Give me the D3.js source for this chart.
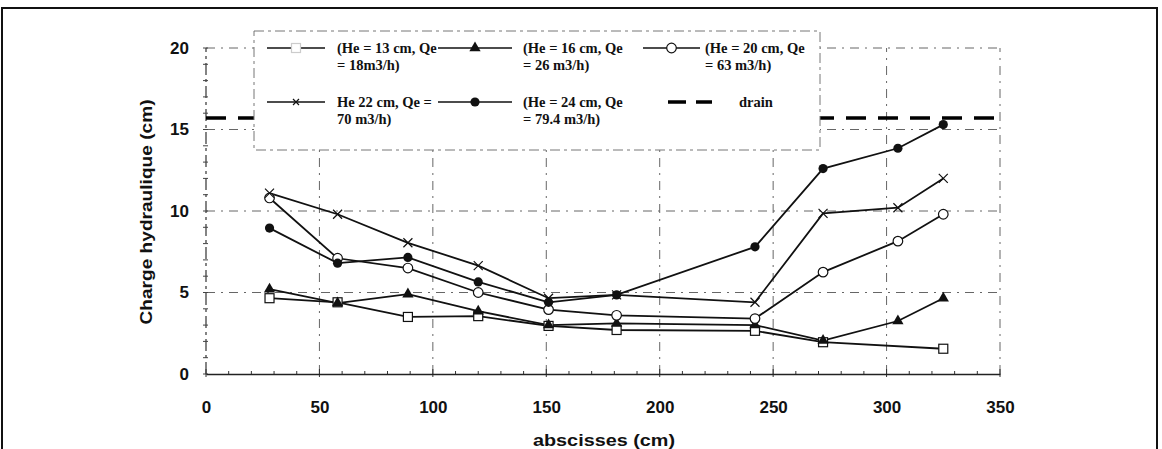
<!DOCTYPE html>
<html>
<head>
<meta charset="utf-8">
<script src="https://cdn.jsdelivr.net/npm/d3@7"></script>
<style>
  html, body { margin: 0; padding: 0; background: #fff; }
  svg { display: block; }
</style>
</head>
<body>
<svg id="chart" width="1162" height="449"></svg>
<script>
// ---- data ----
const xPositions = [28, 58, 89, 120, 151, 181, 242, 272, 305, 325];
const xPositionsHe13 = [28, 58, 89, 120, 151, 181, 242, 272, 325];
const he13 = [4.65, 4.4, 3.5, 3.55, 2.95, 2.7, 2.65, 1.95, 1.55];
const he16 = [5.2, 4.35, 4.9, 3.85, 3.0, 3.1, 3.0, 2.05, 3.25, 4.65];
const he20 = [10.8, 7.1, 6.5, 5.0, 3.95, 3.6, 3.4, 6.25, 8.15, 9.8];
const he22 = [11.1, 9.8, 8.05, 6.65, 4.65, 4.85, 4.4, 9.85, 10.2, 12.0];
const he24 = [8.95, 6.8, 7.15, 5.65, 4.4, 4.85, 7.8, 12.6, 13.85, 15.3];
const drainLevel = 15.7;
const xTicks = [0, 50, 100, 150, 200, 250, 300, 350];
const yTicks = [0, 5, 10, 15, 20];
const legendLabels = [
  ["(He = 13 cm, Qe", "= 18m3/h)"],
  ["(He = 16 cm, Qe", "= 26 m3/h)"],
  ["(He = 20 cm, Qe", "= 63 m3/h)"],
  ["He 22 cm, Qe =", "70 m3/h)"],
  ["(He = 24 cm, Qe", "= 79.4 m3/h)"],
  ["drain"]
];
const xTitle = "abscisses (cm)";
const yTitle = "Charge hydraulique (cm)";

// ---- layout ----
const svg = d3.select("#chart");
const x = d3.scaleLinear().domain([0, 350]).range([206, 1000]);
const y = d3.scaleLinear().domain([0, 20]).range([374, 48]);

// outer frame
svg.append("rect").attr("x", 2).attr("y", 8).attr("width", 1155).attr("height", 450)
  .attr("fill", "none").attr("stroke", "#111").attr("stroke-width", 2);

const gridDash = "9,6,2,6";
const g = svg.append("g");

// horizontal gridlines
g.selectAll(".hgrid").data(yTicks.filter(d => d > 0)).enter().append("line")
  .attr("x1", x(0)).attr("x2", x(350))
  .attr("y1", d => y(d)).attr("y2", d => y(d))
  .attr("stroke", "#666").attr("stroke-width", 1).attr("stroke-dasharray", gridDash);
// vertical gridlines
g.selectAll(".vgrid").data(xTicks.filter(d => d > 0)).enter().append("line")
  .attr("x1", d => x(d)).attr("x2", d => x(d))
  .attr("y1", y(0)).attr("y2", y(20))
  .attr("stroke", "#666").attr("stroke-width", 1).attr("stroke-dasharray", gridDash);

// y axis (dashed like scan)
g.append("line").attr("x1", x(0)).attr("x2", x(0)).attr("y1", y(0)).attr("y2", y(20))
  .attr("stroke", "#333").attr("stroke-width", 1.2).attr("stroke-dasharray", "12,4,3,4");
// y minor ticks
g.selectAll(".ymt").data(d3.range(0, 21, 1)).enter().append("line")
  .attr("x1", x(0) - 3).attr("x2", x(0) + 2)
  .attr("y1", d => y(d)).attr("y2", d => y(d))
  .attr("stroke", "#444").attr("stroke-width", 1);

// x axis via d3
const xAxis = d3.axisBottom(x).tickValues(xTicks).tickSize(0).tickFormat(d3.format("d")).tickPadding(27);
const xa = svg.append("g").attr("transform", `translate(0,${y(0)})`).call(xAxis);
xa.select(".domain").attr("stroke", "#222").attr("stroke-width", 1.5);
xa.selectAll("text").attr("font-family", "Liberation Sans, Arial, sans-serif")
  .attr("font-weight", "bold").attr("font-size", 17).attr("fill", "#111");
// x ticks
g.selectAll(".xmt").data(d3.range(0, 351, 10)).enter().append("line")
  .attr("x1", d => x(d)).attr("x2", d => x(d))
  .attr("y1", d => y(0) - (d % 50 === 0 ? 5 : 3))
  .attr("y2", d => y(0) + (d % 50 === 0 ? 3 : 0))
  .attr("stroke", "#333").attr("stroke-width", 1);

// y axis labels via d3
const yAxis = d3.axisLeft(y).tickValues(yTicks).tickSize(0).tickPadding(17).tickFormat(d3.format("d"));
const ya = svg.append("g").attr("transform", `translate(${x(0)},0)`).call(yAxis);
ya.select(".domain").remove();
ya.selectAll("text").attr("font-family", "Liberation Sans, Arial, sans-serif")
  .attr("font-weight", "bold").attr("font-size", 17).attr("fill", "#111");

// axis titles
svg.append("text").attr("x", 604).attr("y", 446).attr("text-anchor", "middle")
  .attr("font-family", "Liberation Sans, Arial, sans-serif").attr("font-weight", "bold")
  .attr("font-size", 17).attr("fill", "#111")
  .attr("textLength", 142).attr("lengthAdjust", "spacingAndGlyphs").text(xTitle);
svg.append("text").attr("transform", "translate(152,212) rotate(-90)").attr("text-anchor", "middle")
  .attr("font-family", "Liberation Sans, Arial, sans-serif").attr("font-weight", "bold")
  .attr("font-size", 17).attr("fill", "#111")
  .attr("textLength", 225).attr("lengthAdjust", "spacingAndGlyphs").text(yTitle);

// drain line
svg.append("line").attr("x1", x(0)).attr("x2", x(350))
  .attr("y1", y(drainLevel)).attr("y2", y(drainLevel))
  .attr("stroke", "#000").attr("stroke-width", 3.5).attr("stroke-dasharray", "20,12");

// ---- series ----
const line = d3.line().x(d => x(d[0])).y(d => y(d[1]));
const series = [
  { xs: xPositionsHe13, ys: he13, marker: "square" },
  { xs: xPositions, ys: he16, marker: "triangle" },
  { xs: xPositions, ys: he20, marker: "circleOpen" },
  { xs: xPositions, ys: he22, marker: "cross" },
  { xs: xPositions, ys: he24, marker: "circleFilled" }
];

function drawMarker(sel, type, cx, cy, faint) {
  if (type === "square") {
    sel.append("rect").attr("x", cx - 4.5).attr("y", cy - 4.5).attr("width", 9).attr("height", 9)
      .attr("fill", "#fff").attr("stroke", faint ? "#ccc" : "#111").attr("stroke-width", 1.2);
  } else if (type === "triangle") {
    sel.append("path").attr("d", d3.symbol(d3.symbolTriangle, 55)()).attr("transform", `translate(${cx},${cy})`)
      .attr("fill", "#111");
  } else if (type === "circleOpen") {
    sel.append("circle").attr("cx", cx).attr("cy", cy).attr("r", 4.8)
      .attr("fill", "#fff").attr("stroke", "#111").attr("stroke-width", 1.2);
  } else if (type === "circleFilled") {
    sel.append("circle").attr("cx", cx).attr("cy", cy).attr("r", 4.6).attr("fill", "#111");
  } else if (type === "cross") {
    const r = faint ? 3 : 4.5;
    sel.append("path").attr("d", `M${cx - r},${cy - r}L${cx + r},${cy + r}M${cx - r},${cy + r}L${cx + r},${cy - r}`)
      .attr("stroke", "#111").attr("stroke-width", 1.2).attr("fill", "none");
  }
}

series.forEach(s => {
  const pts = s.xs.map((xv, i) => [xv, s.ys[i]]);
  svg.append("path").datum(pts).attr("d", line)
    .attr("fill", "none").attr("stroke", "#111").attr("stroke-width", 1.8);
});
series.forEach(s => {
  const mg = svg.append("g");
  s.xs.forEach((xv, i) => drawMarker(mg, s.marker, x(xv), y(s.ys[i]), false));
});

// ---- legend ----
const leg = svg.append("g");
leg.append("rect").attr("x", 254).attr("y", 31).attr("width", 566).attr("height", 119)
  .attr("fill", "#fff").attr("stroke", "#777").attr("stroke-width", 1).attr("stroke-dasharray", "10,4,3,4");

const colLine = [[267, 325], [438, 512], [643, 700]];
const colText = [337, 523, 705];
const rowY = [48, 102];
const legendMarkers = ["square", "triangle", "circleOpen", "cross", "circleFilled", "drain"];
legendMarkers.forEach((m, i) => {
  const c = i % 3, r = Math.floor(i / 3);
  const ly = rowY[r];
  const [x1, x2] = colLine[c];
  if (m === "drain") {
    leg.append("line").attr("x1", 668).attr("x2", 712).attr("y1", ly).attr("y2", ly)
      .attr("stroke", "#000").attr("stroke-width", 3.5).attr("stroke-dasharray", "18,10");
  } else {
    leg.append("line").attr("x1", x1).attr("x2", x2).attr("y1", ly).attr("y2", ly)
      .attr("stroke", "#111").attr("stroke-width", 1.5);
    drawMarker(leg, m, (x1 + x2) / 2, ly, true);
  }
  const tx = m === "drain" ? 739 : colText[c];
  legendLabels[i].forEach((t, k) => {
    leg.append("text").attr("x", tx).attr("y", ly + 5 + k * 17)
      .attr("font-family", "Liberation Serif, 'Times New Roman', serif").attr("font-weight", "bold")
      .attr("font-size", 14.5).attr("fill", "#111").text(t);
  });
});
</script>
</body>
</html>
